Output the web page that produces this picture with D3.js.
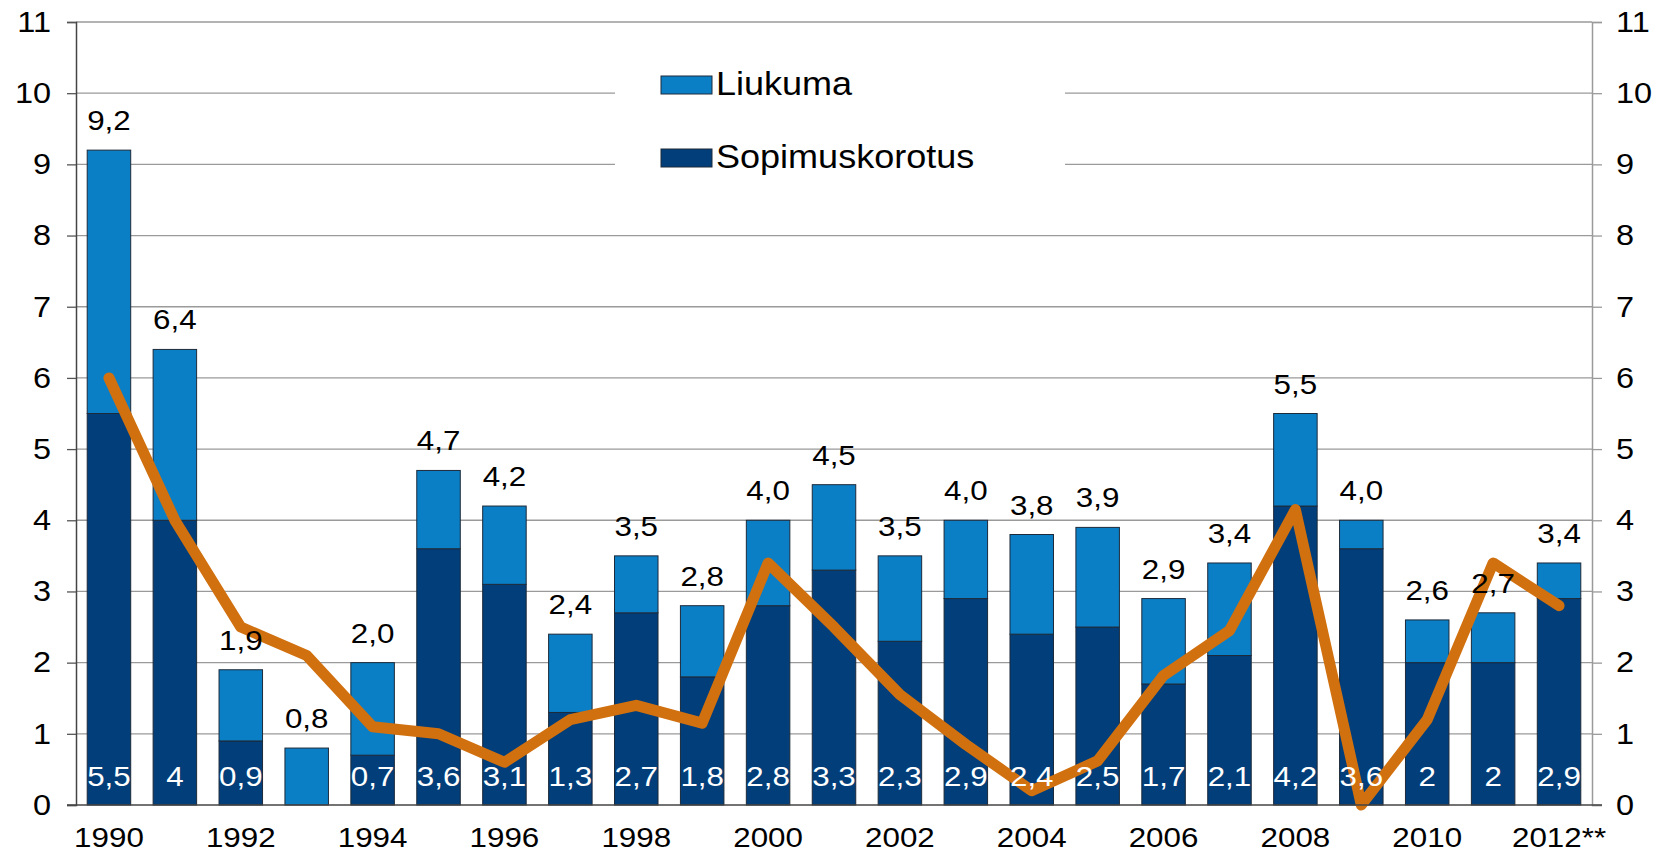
<!DOCTYPE html>
<html>
<head>
<meta charset="utf-8">
<script src="https://cdn.jsdelivr.net/npm/d3@7"></script>
<style>
  html, body { margin: 0; padding: 0; background: #fff; }
  svg { display: block; font-family: "Liberation Sans", Arial, sans-serif; }
</style>
</head>
<body>
<svg id="chart" width="1666" height="854"></svg>
<script>
// ---- data ----
const years = [1990,1991,1992,1993,1994,1995,1996,1997,1998,1999,2000,2001,2002,2003,2004,2005,2006,2007,2008,2009,2010,2011,2012];
const totals = [9.2,6.4,1.9,0.8,2.0,4.7,4.2,2.4,3.5,2.8,4.0,4.5,3.5,4.0,3.8,3.9,2.9,3.4,5.5,4.0,2.6,2.7,3.4];
const sopimuskorotus = [5.5,4,0.9,0,0.7,3.6,3.1,1.3,2.7,1.8,2.8,3.3,2.3,2.9,2.4,2.5,1.7,2.1,4.2,3.6,2,2,2.9];
const lineValues = [6.0,4.0,2.5,2.1,1.1,1.0,0.6,1.2,1.4,1.15,3.4,2.5,1.55,0.85,0.2,0.62,1.82,2.45,4.15,0.0,1.2,3.4,2.8];
const xTickLabels = ["1990","1992","1994","1996","1998","2000","2002","2004","2006","2008","2010","2012**"];
const xTickYears = [1990,1992,1994,1996,1998,2000,2002,2004,2006,2008,2010,2012];
const yTicks = [0,1,2,3,4,5,6,7,8,9,10,11];
const seriesNames = ["Liukuma","Sopimuskorotus"];

(function () {
const colLiukuma = "#0b7fc6";
const colSopimus = "#013e7a";
const colLine = "#d1700f";
const SX = 1.12; // horizontal text stretch seen in the reference

const svg = d3.select("#chart");
const mLeft = 76, mRight = 1592, mTop = 22, mBottom = 805;

const x = d3.scaleBand().domain(years).range([mLeft, mRight]).paddingInner(0.34).paddingOuter(0.17);
const y = d3.scaleLinear().domain([0, 11]).range([mBottom, mTop]);

const fmt = v => String(v).replace(".", ",");
const fmt1 = v => v.toFixed(1).replace(".", ",");

function stretchText(sel, fx, fy, sx) {
  sel.attr("x", 0).attr("y", 0)
     .attr("transform", (d, i) => `translate(${fx(d, i)},${fy(d, i)}) scale(${sx},1)`);
}

// gridlines
svg.append("g").selectAll("line").data(yTicks.filter(d => d > 0)).join("line")
  .attr("x1", mLeft).attr("x2", mRight)
  .attr("y1", d => y(d)).attr("y2", d => y(d))
  .attr("stroke", "#9a9a9a").attr("stroke-width", 1.3);

// legend background (covers gridlines)
const legend = svg.append("g");
legend.append("rect").attr("x", 615).attr("y", 50).attr("width", 450).attr("height", 140).attr("fill", "#fff");

const data = years.map((yr, i) => ({ yr, s: sopimuskorotus[i], t: totals[i], line: lineValues[i] }));

// bars
const bars = svg.append("g");
bars.selectAll("rect.sop").data(data.filter(d => d.s > 0)).join("rect")
  .attr("class", "sop")
  .attr("x", d => x(d.yr)).attr("width", x.bandwidth())
  .attr("y", d => y(d.s)).attr("height", d => y(0) - y(d.s))
  .attr("fill", colSopimus).attr("stroke", "#1d2a3a").attr("stroke-width", 1);
bars.selectAll("rect.liu").data(data).join("rect")
  .attr("class", "liu")
  .attr("x", d => x(d.yr)).attr("width", x.bandwidth())
  .attr("y", d => y(d.t)).attr("height", d => y(d.s) - y(d.t))
  .attr("fill", colLiukuma).attr("stroke", "#1d2a3a").attr("stroke-width", 1);

// line
const lineGen = d3.line().x(d => x(d.yr) + x.bandwidth() / 2).y(d => y(d.line));
svg.append("path").datum(data).attr("d", lineGen)
  .attr("fill", "none").attr("stroke", colLine).attr("stroke-width", 11)
  .attr("stroke-linejoin", "round").attr("stroke-linecap", "round");

// axes
const axL = svg.append("g").attr("transform", `translate(${mLeft},0)`)
  .call(d3.axisLeft(y).tickValues(yTicks).tickSize(9).tickPadding(16).tickFormat(d => d));
axL.select(".domain").attr("stroke", "#444").attr("stroke-width", 1.5);
axL.selectAll(".tick line").attr("stroke", "#555").attr("stroke-width", 1.3);
axL.selectAll(".tick text").attr("font-size", 29).attr("fill", "#000").attr("font-family", "Liberation Sans, Arial, sans-serif")
  .attr("x", 0).attr("transform", `translate(-25,0) scale(${SX},1)`);

const axR = svg.append("g").attr("transform", `translate(${mRight},0)`)
  .call(d3.axisRight(y).tickValues(yTicks).tickSize(10).tickPadding(14).tickFormat(d => d));
axR.select(".domain").attr("stroke", "#9a9a9a").attr("stroke-width", 1.5);
axR.selectAll(".tick line").attr("stroke", "#9a9a9a").attr("stroke-width", 1.3);
axR.selectAll(".tick text").attr("font-size", 29).attr("fill", "#000").attr("font-family", "Liberation Sans, Arial, sans-serif")
  .attr("x", 0).attr("transform", `translate(24,0) scale(${SX},1)`);

// x axis line
svg.append("line").attr("x1", mLeft - 9).attr("x2", mRight + 10).attr("y1", mBottom).attr("y2", mBottom)
  .attr("stroke", "#444").attr("stroke-width", 1.5);

// x labels
svg.append("g").selectAll("text").data(xTickYears).join("text")
  .call(stretchText, d => x(d) + x.bandwidth() / 2, () => 847, SX)
  .attr("text-anchor", "middle").attr("font-size", 28).attr("fill", "#000")
  .text((d, i) => xTickLabels[i]);

// labels: totals above bars
svg.append("g").selectAll("text").data(data).join("text")
  .call(stretchText, d => x(d.yr) + x.bandwidth() / 2, d => y(d.t) - 20, SX)
  .attr("text-anchor", "middle").attr("font-size", 28).attr("fill", "#000")
  .text(d => fmt1(d.t));

// labels: sopimuskorotus inside base
svg.append("g").selectAll("text").data(data.filter(d => d.s > 0)).join("text")
  .call(stretchText, d => x(d.yr) + x.bandwidth() / 2, () => mBottom - 19, SX)
  .attr("text-anchor", "middle").attr("font-size", 28).attr("fill", "#fff")
  .text(d => fmt(d.s));

// legend entries
const legCols = [colLiukuma, colSopimus];
const legY = [76, 149];
seriesNames.forEach((name, i) => {
  legend.append("rect").attr("x", 661).attr("y", legY[i]).attr("width", 51).attr("height", 18)
    .attr("fill", legCols[i]).attr("stroke", "#1d2a3a").attr("stroke-width", 1);
  legend.append("text").attr("transform", `translate(716,${legY[i] + 19}) scale(1.06,1)`)
    .attr("font-size", 34).attr("fill", "#000").text(name);
});
})();
</script>
</body>
</html>
